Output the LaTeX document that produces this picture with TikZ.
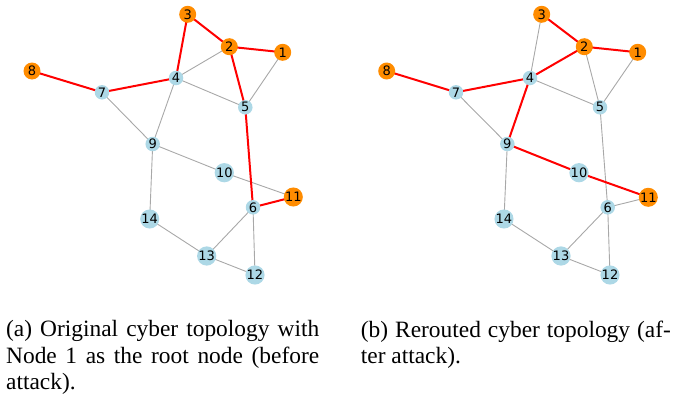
\documentclass[tikz,border=0pt]{standalone}
\usepackage{fontspec}
\usetikzlibrary{backgrounds}
\newfontfamily\nodefont{DejaVu Sans}
\newfontfamily\capfont{Liberation Serif}
\definecolor{hotc}{HTML}{FF8C00}
\definecolor{coldc}{HTML}{ADD8E6}
\definecolor{edgec}{HTML}{A8A8A8}
\tikzset{
  gnode/.style={circle,inner sep=0pt,font=\nodefont\fontsize{13}{13}\selectfont,text=black},
  hot/.style={gnode,fill=hotc,minimum size=17pt},
  cold/.style={gnode,fill=coldc,minimum size=14.5pt},
  grayedge/.style={draw=edgec,line width=0.9pt},
  rededge/.style={draw=red,line width=2pt},
  captext/.style={inner sep=0pt,anchor=north west,align=justify,
    font=\capfont\fontsize{23.4}{26.3}\selectfont}
}
\begin{document}
\begin{tikzpicture}[x=1pt,y=-1pt]
\useasboundingbox (0,0) rectangle (673,399);
% left graph (a)
\node[hot]  (a1)  at (282.7,52.3) {1};
\node[hot]  (a2)  at (229.3,46.7) {2};
\node[hot]  (a3)  at (187.7,14.3) {3};
\node[cold] (a4)  at (176,78) {4};
\node[cold] (a5)  at (245.3,107.3) {5};
\node[cold] (a6)  at (253,207.3) {6};
\node[cold] (a7)  at (102,92.3) {7};
\node[hot]  (a8)  at (32,71) {8};
\node[cold] (a9)  at (152.7,144) {9};
\node[cold] (a10) at (224.3,172.7) {10};
\node[hot]  (a11) at (293.3,197) {11};
\node[cold] (a12) at (255,275) {12};
\node[cold] (a13) at (206.7,256) {13};
\node[cold] (a14) at (149.7,219) {14};
% right graph (b)
\node[hot]  (b1)  at (637.7,52.3) {1};
\node[hot]  (b2)  at (584.3,46.7) {2};
\node[hot]  (b3)  at (541.7,14.3) {3};
\node[cold] (b4)  at (530,78) {4};
\node[cold] (b5)  at (600,107.3) {5};
\node[cold] (b6)  at (607.7,207.3) {6};
\node[cold] (b7)  at (456,92.3) {7};
\node[hot]  (b8)  at (386.7,71) {8};
\node[cold] (b9)  at (507.3,144) {9};
\node[cold] (b10) at (579,172.7) {10};
\node[hot]  (b11) at (648.3,197.3) {11};
\node[cold] (b12) at (610,275) {12};
\node[cold] (b13) at (561,256) {13};
\node[cold] (b14) at (504,219) {14};
\begin{scope}[on background layer]
% (a) edges
\foreach \u/\v in {2/4,1/5,4/5,7/9,4/9,9/10,10/11,9/14,14/13,13/6,6/12,13/12}
  \path[grayedge] (a\u.center) -- (a\v.center);
\foreach \u/\v in {3/2,2/1,3/4,8/7,7/4,2/5,5/6,6/11}
  \path[rededge] (a\u.center) -- (a\v.center);
% (b) edges
\foreach \u/\v in {3/4,2/5,1/5,4/5,7/9,9/14,14/13,13/6,6/12,13/12,5/6,6/11}
  \path[grayedge] (b\u.center) -- (b\v.center);
\foreach \u/\v in {3/2,2/1,2/4,8/7,7/4,4/9,9/10,10/11}
  \path[rededge] (b\u.center) -- (b\v.center);
\end{scope}
% captions
\node[captext,text width=313pt] (capa) at (6,320.5)
  {(a) Original cyber topology with\linebreak Node 1 as the root node (before\linebreak attack).};
\node[captext,text width=310pt] (capb) at (360.7,320.5)
  {(b) Rerouted cyber topology (af-\linebreak ter attack).};
\end{tikzpicture}
\end{document}
